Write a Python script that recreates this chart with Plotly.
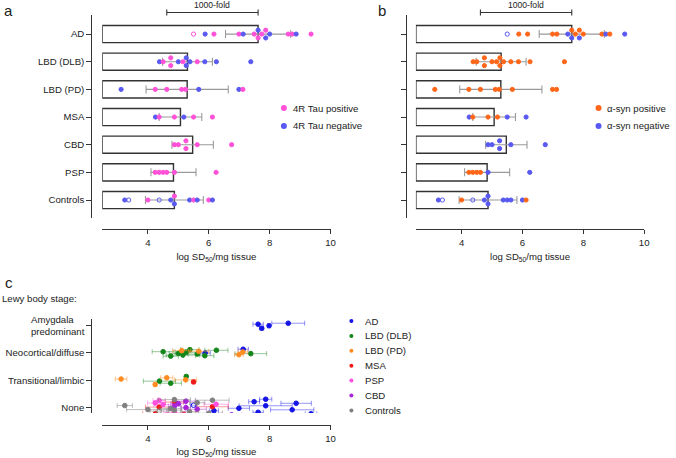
import plotly.graph_objects as go

W, H = 676, 458
FONT = "Liberation Sans, Arial, sans-serif"
TXT = "#222222"
AX = "#333333"

# ---------------- data: panels a / b ----------------
groups_ab = ["AD", "LBD (DLB)", "LBD (PD)", "MSA", "CBD", "PSP", "Controls"]
bar_means = [7.62, 5.30, 5.29, 5.07, 5.47, 4.84, 4.87]
bar_sd = [1.07, 0.82, 1.35, 0.70, 0.68, 0.74, 0.95]

ad_vals = [5.50, 5.88, 6.17, 6.99, 7.13, 7.49, 7.62, 7.62, 7.74, 7.87, 7.87, 8.00, 8.61, 8.74, 8.87, 9.36]
ad_tau = ["Po", "N", "P", "P", "N", "P", "N", "P", "P", "P", "N", "N", "P", "P", "N", "P"]
ad_syn = ["No", "P", "P", "P", "P", "N", "P", "N", "P", "P", "N", "P", "P", "N", "P", "N"]

dlb_vals = [4.38, 4.50, 4.75, 4.75, 5.00, 5.15, 5.26, 5.26, 5.38, 5.62, 5.87, 6.25, 7.38]
dlb_tau = ["N", "P", "P", "P", "N", "P", "N", "N", "N", "P", "N", "N", "N"]
dlb_syn = ["P"] * 13

pd_vals = [3.12, 4.24, 4.62, 5.11, 5.24, 5.67, 6.99, 7.12]
pd_tau = ["N", "P", "P", "P", "P", "N", "N", "P"]
pd_syn = ["P"] * 8

msa_vals = [4.25, 4.37, 4.87, 5.18, 5.50, 6.12]
msa_tau = ["N", "P", "P", "N", "P", "P"]
msa_syn = ["N", "P", "P", "P", "N", "N"]

cbd_vals = [4.87, 5.00, 5.25, 5.25, 5.62, 6.75]
cbd_tau = ["P"] * 6
cbd_syn = ["N"] * 6

psp_vals = [4.24, 4.37, 4.50, 4.62, 4.87, 6.24]
psp_tau = ["P"] * 6
psp_syn = ["P", "P", "P", "P", "N", "N"]

ctl_vals = [3.24, 3.37, 4.00, 4.37, 4.75, 4.87, 4.87, 5.37, 5.50, 5.62, 6.00, 6.12]
ctl_tau = ["N", "No", "P", "No", "N", "P", "N", "N", "P", "N", "P", "N"]
ctl_syn = ["N", "No", "P", "No", "N", "N", "N", "N", "N", "N", "N", "P"]

x_ticks = [4, 6, 8, 10]
x_title = "log SD<sub>50</sub>/mg tissue"
fold_text = "1000-fold"
fold_logs = 3

# ---------------- data: panel c ----------------
stages = ["Amygdala<br>predominant", "Neocortical/diffuse", "Transitional/limbic", "None"]
c_groups = ["AD", "LBD (DLB)", "LBD (PD)", "MSA", "PSP", "CBD", "Controls"]

c_ad_vals = [7.74, 7.62, 7.98, 8.61, 5.88, 7.13, 5.50, 6.17, 6.99, 7.49, 7.62, 7.87, 7.87, 8.74, 8.87, 9.36]
c_ad_stage = [0, 0, 0, 0, 1, 1, 3, 3, 3, 3, 3, 3, 3, 3, 3, 3]
c_ad_err = [0.06, 0.17, 0.05, 0.54, 0.17, 0.17, 0.10, 0.15, 0.35, 0.18, 0.17, 0.87, 0.20, 0.71, 0.50, 0.19]
c_ad_open = [0, 0, 0, 0, 0, 0, 1, 0, 0, 0, 0, 0, 0, 0, 0, 0]

c_dlb_vals = [4.50, 4.75, 5.00, 5.15, 5.26, 5.38, 5.62, 5.87, 6.25, 7.38, 4.38, 4.75, 5.26]
c_dlb_stage = [1, 1, 1, 1, 1, 1, 1, 1, 1, 1, 2, 2, 2]
c_dlb_err = [0.36, 0.25, 0.30, 0.55, 0.35, 0.30, 0.28, 0.30, 0.38, 0.52, 0.53, 0.35, 0.05]
c_dlb_open = [0] * 13

c_pd_vals = [5.11, 5.67, 6.99, 7.12, 3.12, 4.24, 4.62, 5.24]
c_pd_stage = [1, 1, 1, 1, 2, 2, 2, 2]
c_pd_err = [0.30, 0.33, 0.14, 0.16, 0.19, 0.05, 0.20, 0.36]
c_pd_open = [0] * 8

c_msa_vals = [5.50, 4.25, 4.37, 4.87, 5.18, 6.12]
c_msa_stage = [2, 3, 3, 3, 3, 3]
c_msa_err = [0.05, 0.42, 0.45, 0.30, 0.40, 0.52]
c_msa_open = [0] * 6

c_psp_vals = [4.24, 4.37, 4.50, 4.62, 4.87, 6.24]
c_psp_stage = [3] * 6
c_psp_err = [0.25, 0.20, 0.30, 0.25, 0.35, 0.40]
c_psp_open = [0] * 6

c_cbd_vals = [4.87, 5.00, 5.25, 5.25, 5.62, 6.75]
c_cbd_stage = [3] * 6
c_cbd_err = [0.20, 0.25, 0.15, 0.30, 0.30, 0.34]
c_cbd_open = [0] * 6

c_ctl_vals = [3.24, 3.37, 4.00, 4.37, 4.75, 4.87, 4.87, 5.37, 5.50, 5.62, 6.00, 6.12]
c_ctl_stage = [3] * 12
c_ctl_err = [0.25, 0.20, 0.70, 0.30, 0.35, 0.53, 0.25, 0.30, 0.40, 0.25, 0.45, 0.55]
c_ctl_open = [0, 1, 0, 1, 0, 0, 0, 0, 0, 0, 0, 0]

# ---------------- styling ----------------
PINK = "#FF50D8"
BLUE = "#5858F2"
ORANGE = "#FF6618"
c_colors = ["#1414E6", "#14861A", "#FF8C22", "#F01A1A", "#FF4FE0", "#A824D8", "#808080"]
c_err_colors = ["rgba(20,20,230,0.45)", "rgba(20,134,26,0.45)", "rgba(255,140,34,0.5)",
                "rgba(240,26,26,0.45)", "rgba(255,79,224,0.45)", "rgba(168,36,216,0.45)",
                "rgba(128,128,128,0.5)"]
FS = 9.6


def px(x):
    return x / W


def py(y):
    return 1 - y / H


def dodge(vals, d=0.14):
    totals, seen, out = {}, {}, []
    for v in vals:
        totals[v] = totals.get(v, 0) + 1
    for v in vals:
        k = seen.get(v, 0)
        seen[v] = k + 1
        n = totals[v]
        out.append(0.0 if n == 1 else -d + 2 * d * k / (n - 1))
    return out


ab_vals = [ad_vals, dlb_vals, pd_vals, msa_vals, cbd_vals, psp_vals, ctl_vals]
ab_tau = [ad_tau, dlb_tau, pd_tau, msa_tau, cbd_tau, psp_tau, ctl_tau]
ab_syn = [ad_syn, dlb_syn, pd_syn, msa_syn, cbd_syn, psp_syn, ctl_syn]

fig = go.Figure()

BASE = 2.5
for xa, ya, statuses, poscol in [("x", "y", ab_tau, PINK), ("x2", "y2", ab_syn, ORANGE)]:
    fig.add_trace(go.Bar(
        orientation="h", y=list(range(len(groups_ab))),
        x=[m - BASE for m in bar_means], base=BASE,
        width=0.62, marker=dict(color="white", line=dict(color=AX, width=1.4)),
        error_x=dict(type="data", array=bar_sd, color="#9A9A9A", thickness=1.1, width=4),
        xaxis=xa, yaxis=ya, showlegend=False, hoverinfo="skip"))
    xs, ys, cols, syms = [], [], [], []
    for gi, (vals, st) in enumerate(zip(ab_vals, statuses)):
        offs = dodge(vals)
        for v, s, o in zip(vals, st, offs):
            xs.append(v)
            ys.append(gi + o)
            cols.append(poscol if s.startswith("P") else BLUE)
            syms.append("circle-open" if s.endswith("o") else "circle")
    fig.add_trace(go.Scatter(
        x=xs, y=ys, mode="markers", xaxis=xa, yaxis=ya, showlegend=False,
        marker=dict(size=4.2, color=cols, symbol=syms, line=dict(color=cols, width=1))))

# ---------------- panel c ----------------
c_vals = [c_ad_vals, c_dlb_vals, c_pd_vals, c_msa_vals, c_psp_vals, c_cbd_vals, c_ctl_vals]
c_stage = [c_ad_stage, c_dlb_stage, c_pd_stage, c_msa_stage, c_psp_stage, c_cbd_stage, c_ctl_stage]
c_err = [c_ad_err, c_dlb_err, c_pd_err, c_msa_err, c_psp_err, c_cbd_err, c_ctl_err]
c_open = [c_ad_open, c_dlb_open, c_pd_open, c_msa_open, c_psp_open, c_cbd_open, c_ctl_open]

row_spread = [0.12, 0.13, 0.16, 0.31]
allpts = []
for gi in range(len(c_groups)):
    for i, (v, s) in enumerate(zip(c_vals[gi], c_stage[gi])):
        allpts.append((s, v, gi, i))
ypos = {}
for r in range(len(stages)):
    pts = sorted([p for p in allpts if p[0] == r], key=lambda p: p[1])
    for k, p in enumerate(pts):
        f = (k * 0.618034 + 0.37) % 1.0
        ypos[(p[2], p[3])] = r + row_spread[r] * (2 * f - 1)

for gi, g in enumerate(c_groups):
    n = len(c_vals[gi])
    fig.add_trace(go.Scatter(
        x=c_vals[gi], y=[ypos[(gi, i)] for i in range(n)], mode="markers",
        xaxis="x3", yaxis="y3", showlegend=False, name=g,
        error_x=dict(type="data", array=c_err[gi], color=c_err_colors[gi], thickness=1, width=2.5),
        marker=dict(size=4.6, color=c_colors[gi],
                    symbol=["circle-open" if o else "circle" for o in c_open[gi]],
                    line=dict(color=c_colors[gi], width=1))))

# ---------------- axes ----------------
def xaxis(dom_l, dom_r, pos_y):
    return dict(domain=[px(dom_l), px(dom_r)], range=[2.5, 10], anchor="free", position=py(pos_y),
                showline=True, linecolor=AX, linewidth=1.2, ticks="outside", ticklen=4,
                tickwidth=1.2, tickcolor=AX, tickvals=x_ticks, showgrid=False, zeroline=False,
                tickfont=dict(size=FS, color=TXT, family=FONT),
                title=dict(text=x_title, font=dict(size=FS, color=TXT, family=FONT), standoff=6))


def yaxis(top, bot, pos_x, rng, tickvals, ticktext, show):
    return dict(domain=[py(bot), py(top)], range=rng, anchor="free", position=px(pos_x),
                showline=True, linecolor=AX, linewidth=1.2, ticks="outside", ticklen=5,
                tickwidth=1.2, tickcolor=AX, tickvals=tickvals, ticktext=ticktext,
                showticklabels=show, showgrid=False, zeroline=False,
                tickfont=dict(size=FS, color=TXT, family=FONT))


n_ab = len(groups_ab)
fig.update_layout(
    width=W, height=H, margin=dict(l=0, r=0, t=0, b=0),
    paper_bgcolor="white", plot_bgcolor="white", showlegend=False,
    font=dict(family=FONT, color=TXT, size=FS),
    bargap=0.3,
    xaxis=xaxis(103, 333, 229),
    yaxis=yaxis(15, 218, 92, [n_ab - 1 + 0.65, -0.69], list(range(n_ab)), groups_ab, True),
    xaxis2=xaxis(419, 649, 229),
    yaxis2=yaxis(15, 218, 409, [n_ab - 1 + 0.65, -0.69], list(range(n_ab)), groups_ab, False),
    xaxis3=xaxis(103, 333, 425),
    yaxis3=yaxis(319, 413, 92, [3.19, -0.22], list(range(len(stages))),
                 [" "] + stages[1:], True),
)

ann = []
shapes = []
# panel letters
for t, x, y in [("a", 2, 0), ("b", 379, 0), ("c", 3, 272)]:
    ann.append(dict(text=t, x=px(x), y=py(y), xref="paper", yref="paper", xanchor="left",
                    yanchor="top", showarrow=False, font=dict(size=15, color=TXT, family=FONT)))
# multi-line stage label (left aligned)
ann.append(dict(text=stages[0], x=px(88), y=py(325), xref="paper", yref="paper", xanchor="right",
                yanchor="middle", align="left", showarrow=False,
                font=dict(size=FS, color=TXT, family=FONT)))
ann.append(dict(text="Lewy body stage:", x=px(0), y=py(298), xref="paper", yref="paper",
                xanchor="left", yanchor="middle", showarrow=False,
                font=dict(size=FS, color=TXT, family=FONT)))

# 1000-fold brackets
for xr in ["x", "x2"]:
    x1 = bar_means[0]
    x0 = x1 - fold_logs
    shapes.append(dict(type="line", xref=xr, yref="paper", x0=x0, x1=x1, y0=py(12.5), y1=py(12.5),
                       line=dict(color=AX, width=1.1)))
    for xx in (x0, x1):
        shapes.append(dict(type="line", xref=xr, yref="paper", x0=xx, x1=xx, y0=py(9.5), y1=py(15.5),
                           line=dict(color=AX, width=1.1)))
    ann.append(dict(text=fold_text, xref=xr, yref="paper", x=(x0 + x1) / 2, y=py(5),
                    yanchor="middle", showarrow=False, font=dict(size=8.6, color=TXT, family=FONT)))


def legend_item(mx, my, color, text, size=6, tx=None):
    shapes.append(dict(type="circle", xref="paper", yref="paper", xsizemode="pixel",
                       ysizemode="pixel", xanchor=px(mx), yanchor=py(my),
                       x0=-size / 2, x1=size / 2, y0=-size / 2, y1=size / 2,
                       fillcolor=color, line=dict(width=0)))
    ann.append(dict(text=text, x=px(tx if tx is not None else mx + 7), y=py(my), xref="paper",
                    yref="paper", xanchor="left", yanchor="middle", showarrow=False,
                    font=dict(size=FS, color=TXT, family=FONT)))


legend_item(286, 108, PINK, "4R Tau positive")
legend_item(286, 126, BLUE, "4R Tau negative")
legend_item(603, 108, ORANGE, "α-syn positive")
legend_item(603, 126, BLUE, "α-syn negative")
leg_y0, leg_dy = 321, 14.9
for gi, g in enumerate(c_groups):
    legend_item(354, leg_y0 + gi * leg_dy, c_colors[gi], g, size=4, tx=366)

fig.update_layout(annotations=ann, shapes=shapes)
fig.write_html("out.html", config={"displayModeBar": False},
               post_script="document.body.style.margin='0';document.body.style.overflow='hidden';")
